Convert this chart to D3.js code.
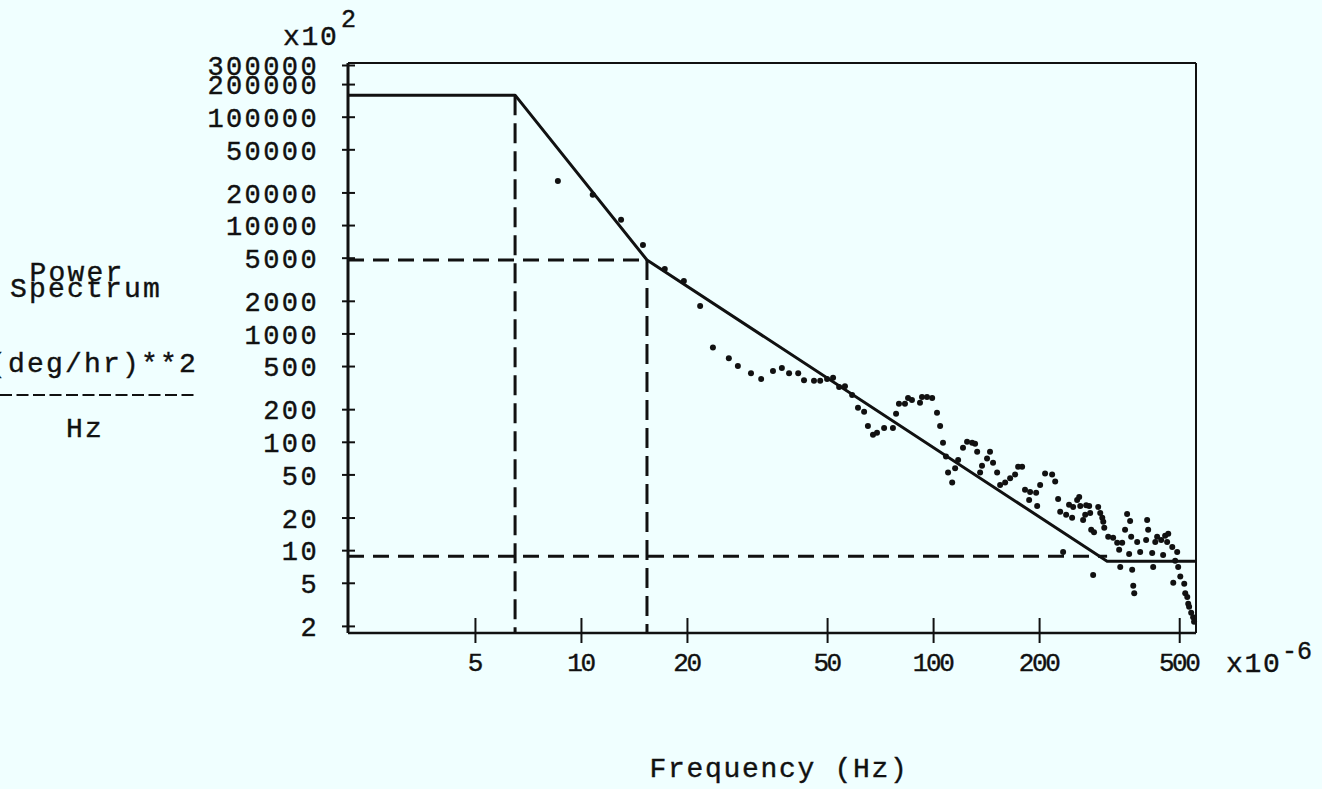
<!DOCTYPE html>
<html>
<head>
<meta charset="utf-8">
<script src="https://cdnjs.cloudflare.com/ajax/libs/d3/7.8.5/d3.min.js"></script>
<style>
  html, body { margin: 0; padding: 0; background: #f0ffff; }
  svg { display: block; }
  text { font-family: "Liberation Mono", "DejaVu Sans Mono", monospace; fill: #111; stroke: #111; stroke-width: 0.4; }
  .tw { font-size: 28px; letter-spacing: 1.7px; }
  .ytitle { font-size: 28px; letter-spacing: 2.2px; }
  .sup { font-size: 25px; }
  .axis text { font-family: "Liberation Mono", "DejaVu Sans Mono", monospace; fill: #111; }
  .y.axis text { font-size: 27px; letter-spacing: 2.4px; }
  .x.axis text { font-size: 26px; letter-spacing: -2.4px; }
  .axis line { stroke: #111; stroke-width: 2; }
  .frame { fill: none; stroke: #111; }
  .model { fill: none; stroke: #111; stroke-width: 3; stroke-linejoin: round; }
  .guide { fill: none; stroke: #111; stroke-width: 3; }
  .dot { fill: #111; }
</style>
</head>
<body>
<div id="chart"></div>
<script>
// spectrum estimate (freq in 1e-6 Hz, power in 1e2 (deg/hr)^2/Hz)
var freq = [8.6, 10.8, 13.0, 15.0, 17.3, 19.6, 21.8, 23.7, 26.3, 27.9,
  30.4, 32.5, 35.1, 37.2, 39.0, 41.4, 43.0, 45.9, 47.8, 50.0,
  52.0, 54.1, 56.2, 58.9, 61.2, 63.7, 65.3, 67.5, 69.3, 72.6,
  76.9, 78.5, 80.0, 83.2, 84.9, 87.1, 91.8, 93.0, 96.1, 99.4,
  102.6, 104.7, 106.7, 108.8, 110.3, 113.3, 115.5, 117.8, 121.6, 124.9,
  129.1, 131.6, 133.4, 136.0, 137.7, 142.3, 145.1, 148.0, 152.0, 155.0,
  160.2, 165.5, 171.0, 174.4, 179.0, 182.4, 187.4, 188.6, 196.2, 197.5,
  201.4, 208.0, 217.8, 222.2, 226.5, 229.6, 234.0, 238.7, 243.3, 248.2,
  249.9, 256.5, 260.0, 261.8, 266.7, 270.4, 272.1, 277.5, 279.3, 281.2,
  284.8, 286.4, 294.4, 298.3, 302.3, 304.3, 306.3, 314.3, 324.6, 333.3,
  337.6, 340.0, 344.4, 350.9, 355.6, 360.4, 362.7, 365.2, 367.6, 370.2,
  372.6, 379.8, 387.3, 402.7, 405.4, 408.1, 419.0, 421.7, 427.5, 432.8,
  444.4, 450.0, 456.0, 462.0, 465.4, 477.8, 480.9, 487.0, 493.4, 496.6,
  503.5, 516.7, 520.1, 527.0, 530.4, 533.4, 540.7, 547.7, 551.0];
var power = [25500, 19000, 11200, 6550, 3940, 3050, 1790, 740, 590, 500,
  430, 380, 450, 480, 430, 430, 370, 365, 365, 380,
  390, 320, 325, 270, 206, 189, 140, 116, 121, 134,
  134, 181, 224, 224, 254, 243, 229, 259, 259, 254,
  185, 140, 98, 73, 52, 42, 57, 68, 88, 100,
  98, 96, 81, 52, 60, 70, 81, 64, 52, 40,
  42, 46, 50, 59, 59, 36, 29, 34.5, 33.8, 25.6,
  40, 51, 50, 43, 29.7, 22.6, 9.6, 21.2, 26.2, 19.9,
  25, 29, 31, 25.6, 19.0, 21.2, 26, 25.6, 22, 15.4,
  5.9, 14.6, 25, 22, 19.9, 18.3, 16.1, 13.3, 13.0, 11.7,
  10.1, 7.0, 11.7, 15.4, 21.6, 9.2, 18.6, 13.3, 6.6, 4.7,
  4.0, 11.9, 9.6, 12.4, 19.0, 15.4, 9.4, 7.0, 11.9, 13.3,
  12.4, 9.0, 13.6, 11.9, 14.2, 10.7, 5.0, 8.0, 9.6, 7.0,
  5.7, 4.9, 4.0, 3.7, 3.2, 3.0, 2.64, 2.4, 2.18];

// fitted model: flat, f^-4, f^-2, flat
var modelFreq = [2.18, 6.5, 15.4, 312, 558];
var modelPower = [158000, 158000, 4760, 7.9, 7.9];

// dashed construction lines
var cornerFreq = [6.5, 15.4];
var levelPower = [4760, 8.8];

var xTicks = [5, 10, 20, 50, 100, 200, 500];
var yTicks = [300000, 200000, 100000, 50000, 20000, 10000, 5000, 2000, 1000,
  500, 200, 100, 50, 20, 10, 5, 2];

var width = 1322, height = 789;

var x = d3.scaleLog().domain([2.18, 558]).range([348, 1196]);
var y = d3.scaleLog().domain([1.72, 313000]).range([633, 63]);

var svg = d3.select("#chart").append("svg")
    .attr("width", width)
    .attr("height", height);

svg.append("rect")
    .attr("width", width)
    .attr("height", height)
    .attr("fill", "#f0ffff");

// axes
var yAxis = svg.append("g")
    .attr("class", "y axis")
    .attr("transform", "translate(" + x.range()[0] + ",0)")
    .call(d3.axisLeft(y).tickValues(yTicks).tickFormat(d3.format("d")).tickSizeOuter(0));
yAxis.select(".domain").remove();
yAxis.selectAll(".tick line").attr("x1", -6).attr("x2", 7);
yAxis.selectAll(".tick text").attr("x", -29).attr("dy", "0.36em");

var xAxis = svg.append("g")
    .attr("class", "x axis")
    .attr("transform", "translate(0," + y.range()[0] + ")")
    .call(d3.axisBottom(x).tickValues(xTicks).tickFormat(d3.format("d")).tickSizeOuter(0));
xAxis.select(".domain").remove();
xAxis.selectAll(".tick line").attr("y1", -15).attr("y2", 10);
xAxis.selectAll(".tick text").attr("x", -1).attr("y", 29).attr("dy", "0.36em");

// frame
var x0 = x.range()[0], x1 = x.range()[1], y0 = y.range()[0], y1 = y.range()[1];
svg.append("line").attr("class", "frame").attr("stroke-width", 3)
    .attr("x1", x0).attr("x2", x0).attr("y1", y1).attr("y2", y0);
svg.append("line").attr("class", "frame").attr("stroke-width", 2.5)
    .attr("x1", x0).attr("x2", x1).attr("y1", y0).attr("y2", y0);
svg.append("line").attr("class", "frame").attr("stroke-width", 2)
    .attr("x1", x0).attr("x2", x1).attr("y1", y1).attr("y2", y1);
svg.append("line").attr("class", "frame").attr("stroke-width", 2)
    .attr("x1", x1).attr("x2", x1).attr("y1", y1).attr("y2", y0);

// dashed guides
var fmin = x.domain()[0], pmin = y.domain()[0];
var guides = [
  [[cornerFreq[0], modelPower[1]], [cornerFreq[0], pmin]],
  [[cornerFreq[1], levelPower[0]], [cornerFreq[1], pmin]],
  [[fmin, levelPower[0]], [cornerFreq[1], levelPower[0]]],
  [[fmin, levelPower[1]], [modelFreq[3], levelPower[1]]]
];
var line = d3.line()
    .x(function(d) { return x(d[0]); })
    .y(function(d) { return y(d[1]); });

svg.selectAll(".guide")
    .data(guides)
    .enter().append("path")
    .attr("class", "guide")
    .attr("stroke-dasharray", function(d, i) { return i < 2 ? "20,8" : "16,9"; })
    .attr("d", line);

// model line
svg.append("path")
    .datum(modelFreq.map(function(f, i) { return [f, modelPower[i]]; }))
    .attr("class", "model")
    .attr("d", line);

// data points
svg.selectAll(".dot")
    .data(freq)
    .enter().append("circle")
    .attr("class", "dot")
    .attr("cx", function(d) { return x(d); })
    .attr("cy", function(d, i) { return y(power[i]); })
    .attr("r", 3);

// labels
svg.append("text").attr("class", "tw").attr("x", 283).attr("y", 45).text("x10");
svg.append("text").attr("class", "sup").attr("x", 341).attr("y", 27).text("2");

svg.append("text").attr("class", "tw").attr("x", 1226).attr("y", 672).text("x10");
svg.append("text").attr("class", "sup").attr("x", 1282).attr("y", 659).text("-6");

svg.append("text").attr("class", "tw").attr("text-anchor", "middle")
    .attr("x", 779).attr("y", 777).text("Frequency (Hz)");

svg.append("text").attr("class", "ytitle").attr("text-anchor", "middle")
    .attr("x", 77).attr("y", 281).text("Power");
svg.append("text").attr("class", "ytitle").attr("text-anchor", "middle")
    .attr("x", 86).attr("y", 297).text("Spectrum");
svg.append("text").attr("class", "ytitle").attr("text-anchor", "end")
    .attr("x", 198).attr("y", 372).text("(deg/hr)**2");
svg.append("line")
    .attr("x1", 0).attr("x2", 195).attr("y1", 395).attr("y2", 395)
    .attr("stroke", "#111").attr("stroke-width", 2)
    .attr("stroke-dasharray", "12,4.5");
svg.append("text").attr("class", "ytitle").attr("text-anchor", "middle")
    .attr("x", 85).attr("y", 437).text("Hz");
</script>
</body>
</html>
